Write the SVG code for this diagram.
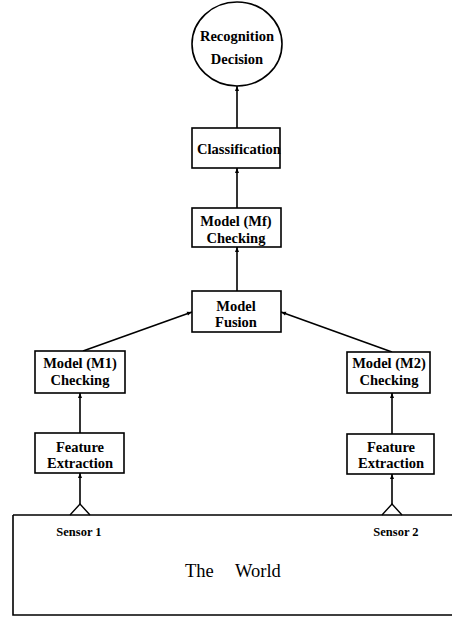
<svg xmlns="http://www.w3.org/2000/svg" width="452" height="618" viewBox="0 0 452 618">
<style>
.box{fill:#fff;stroke:#000;stroke-width:1.6}
.lbl{font-family:"Liberation Serif","Times New Roman",serif;font-weight:bold;font-size:14.5px;text-anchor:middle;fill:#000}
.sm{font-size:12.5px}
.big{font-family:"Liberation Serif","Times New Roman",serif;font-size:18.5px;fill:#000}
.edge{stroke:#000;stroke-width:1.6;fill:none;marker-end:url(#ah)}
</style>
<defs>
<marker id="ah" viewBox="0 0 10 10" refX="10" refY="5" markerWidth="6" markerHeight="5" markerUnits="userSpaceOnUse" orient="auto">
<path d="M0,1 L10,5 L0,9 z" fill="#000"/>
</marker>
</defs>
<rect width="452" height="618" fill="#fff"/>
<g id="connectors">
<line class="edge" x1="237" y1="128" x2="237" y2="86"/>
<line class="edge" x1="237" y1="208" x2="237" y2="168"/>
<line class="edge" x1="237" y1="291" x2="237" y2="247"/>
<line class="edge" x1="83" y1="351" x2="192" y2="312"/>
<line class="edge" x1="392" y1="352" x2="281" y2="312"/>
<line class="edge" x1="80" y1="433" x2="80" y2="393"/>
<line class="edge" x1="392" y1="434" x2="392" y2="393"/>
<line class="edge" x1="80" y1="504" x2="80" y2="473"/>
<line class="edge" x1="392" y1="504" x2="392" y2="474"/>
</g>
<g id="world">
<path d="M13,515 L452,515 M13,515 L13,615 L452,615" fill="none" stroke="#000" stroke-width="1.6"/>
<text class="big" x="185" y="577">The</text>
<text class="big" x="235" y="577">World</text>
</g>
<g id="sensor1">
<path d="M70,515 L80,504 L90,515" fill="none" stroke="#000" stroke-width="1.4"/>
<text class="lbl sm" x="79" y="536">Sensor 1</text>
</g>
<g id="sensor2">
<path d="M382,515 L392,504 L402,515" fill="none" stroke="#000" stroke-width="1.4"/>
<text class="lbl sm" x="396" y="536">Sensor 2</text>
</g>
<g id="recognition">
<ellipse cx="237" cy="44" rx="45" ry="42" fill="#fff" stroke="#000" stroke-width="1.6"/>
<text class="lbl" x="237" y="41">Recognition</text>
<text class="lbl" x="237" y="64">Decision</text>
</g>
<g id="classification">
<rect class="box" x="192" y="128" width="88" height="40"/>
<text class="lbl" x="239" y="154">Classification</text>
</g>
<g id="mf">
<rect class="box" x="192" y="208" width="89" height="39"/>
<text class="lbl" x="236" y="226">Model (Mf)</text>
<text class="lbl" x="236" y="243">Checking</text>
</g>
<g id="fusion">
<rect class="box" x="192" y="291" width="89" height="41"/>
<text class="lbl" x="236" y="311">Model</text>
<text class="lbl" x="236" y="327">Fusion</text>
</g>
<g id="m1">
<rect class="box" x="35" y="351" width="90" height="42"/>
<text class="lbl" x="80" y="368">Model (M1)</text>
<text class="lbl" x="80" y="385">Checking</text>
</g>
<g id="m2">
<rect class="box" x="347" y="352" width="83" height="41"/>
<text class="lbl" x="389" y="368">Model (M2)</text>
<text class="lbl" x="389" y="385">Checking</text>
</g>
<g id="fe1">
<rect class="box" x="35" y="433" width="89" height="40"/>
<text class="lbl" x="80" y="452">Feature</text>
<text class="lbl" x="80" y="468">Extraction</text>
</g>
<g id="fe2">
<rect class="box" x="347" y="434" width="87" height="40"/>
<text class="lbl" x="391" y="452">Feature</text>
<text class="lbl" x="391" y="468">Extraction</text>
</g>
</svg>
